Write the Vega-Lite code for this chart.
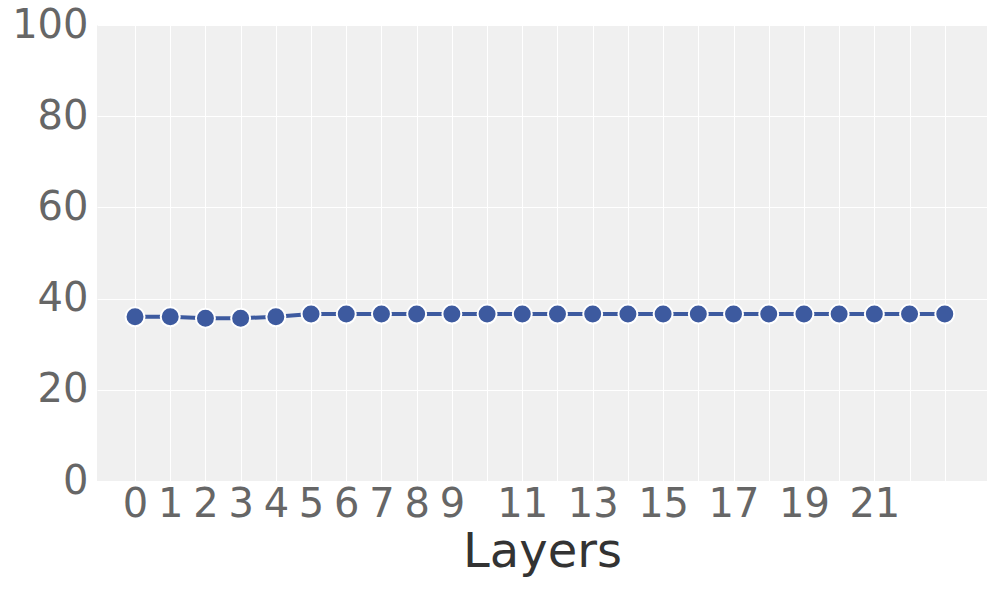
{
  "$schema": "https://vega.github.io/schema/vega-lite/v6.json",
  "autosize": "none",
  "width": 890,
  "height": 456,
  "padding": {"left": 97, "top": 25, "right": 9, "bottom": 109},
  "background": "white",
  "config": {
    "view": {"fill": "#f0f0f0", "stroke": null},
    "font": "DejaVu Sans"
  },
  "data": {
    "values": [
      {"layer": 0, "value": 36.0},
      {"layer": 1, "value": 36.0},
      {"layer": 2, "value": 35.7},
      {"layer": 3, "value": 35.7},
      {"layer": 4, "value": 36.0},
      {"layer": 5, "value": 36.6},
      {"layer": 6, "value": 36.6},
      {"layer": 7, "value": 36.6},
      {"layer": 8, "value": 36.6},
      {"layer": 9, "value": 36.6},
      {"layer": 10, "value": 36.6},
      {"layer": 11, "value": 36.6},
      {"layer": 12, "value": 36.6},
      {"layer": 13, "value": 36.6},
      {"layer": 14, "value": 36.6},
      {"layer": 15, "value": 36.6},
      {"layer": 16, "value": 36.6},
      {"layer": 17, "value": 36.6},
      {"layer": 18, "value": 36.6},
      {"layer": 19, "value": 36.6},
      {"layer": 20, "value": 36.6},
      {"layer": 21, "value": 36.6},
      {"layer": 22, "value": 36.6},
      {"layer": 23, "value": 36.6}
    ]
  },
  "mark": {
    "type": "line",
    "color": "#3d5a9f",
    "strokeWidth": 4,
    "point": {"filled": true, "size": 360, "color": "#3d5a9f", "stroke": "white", "strokeWidth": 2, "opacity": 1}
  },
  "encoding": {
    "x": {
      "field": "layer",
      "type": "quantitative",
      "scale": {"domain": [-1.08, 24.2], "nice": false, "zero": false},
      "axis": {
        "values": [0,1,2,3,4,5,6,7,8,9,10,11,12,13,14,15,16,17,18,19,20,21,22,23],
        "labelExpr": "datum.value <= 9 || (datum.value % 2 == 1 && datum.value <= 21) ? datum.label : ''",
        "title": "Layers",
        "titleFontSize": 48,
        "titleFontWeight": "normal",
        "titleColor": "#333333",
        "titlePadding": 4,
        "labelFontSize": 40,
        "labelColor": "#666666",
        "labelPadding": 3,
        "labelOverlap": false,
        "labelFlush": false,
        "domain": false,
        "ticks": false,
        "grid": true,
        "gridColor": "white",
        "gridWidth": 1
      }
    },
    "y": {
      "field": "value",
      "type": "quantitative",
      "scale": {"domain": [0, 100], "nice": false},
      "axis": {
        "values": [0, 20, 40, 60, 80, 100],
        "title": null,
        "labelFontSize": 40,
        "labelColor": "#666666",
        "labelPadding": 9,
        "labelFlush": false,
        "domain": false,
        "ticks": false,
        "grid": true,
        "gridColor": "white",
        "gridWidth": 1
      }
    }
  }
}
